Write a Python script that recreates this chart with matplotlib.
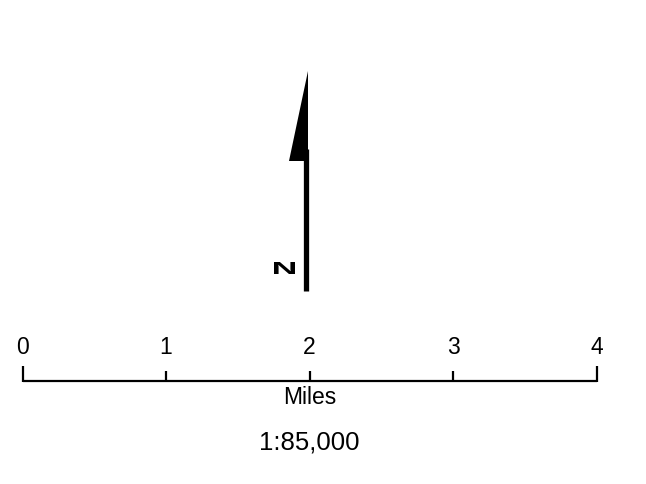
import matplotlib
matplotlib.use("Agg")
import matplotlib.pyplot as plt
from matplotlib.textpath import TextPath
from matplotlib.patches import PathPatch, Polygon
from matplotlib.font_manager import FontProperties
import matplotlib.transforms as mtransforms

# Data
scale_miles = [0, 1, 2, 3, 4]
scale_labels = ["0", "1", "2", "3", "4"]
unit_label = "Miles"
ratio_label = "1:85,000"
north_label = "N"

plt.rcParams['font.family'] = ['Liberation Sans', 'DejaVu Sans']

fig = plt.figure(figsize=(6.46, 4.85), dpi=100)
W, H = 646, 485
ax = fig.add_axes([0, 0, 1, 1])
ax.set_xlim(0, W)
ax.set_ylim(H, 0)
ax.axis('off')

# North arrow (pixel coords)
ax.plot([305.5, 305.5], [150, 292], color='black', lw=3.8, solid_capstyle='butt')
ax.add_patch(Polygon([[308, 72], [289, 162], [308, 162]], closed=True,
                     facecolor='black', edgecolor='none'))

fp = FontProperties(family='Liberation Sans', weight='bold')
tp = TextPath((0, 0), north_label, size=16, prop=fp)
ext = tp.get_extents()
sx = 21.0 / ext.width
sy = 12.0 / ext.height
tr = (mtransforms.Affine2D().translate(-ext.x0, -ext.y0).scale(sx, -sy)
      .translate(274, 275) + ax.transData)
ax.add_patch(PathPatch(tp, facecolor='black', edgecolor='none', transform=tr))

# Scale bar axes in miles
left_px, right_px = 22.5, 596.5
sax = fig.add_axes([left_px / W, 0, (right_px - left_px) / W, 1])
sax.set_xlim(scale_miles[0], scale_miles[-1])
sax.set_ylim(H, 0)
sax.axis('off')
base_y = 382
sax.plot([scale_miles[0], scale_miles[-1]], [base_y, base_y], color='black', lw=1.6,
         solid_capstyle='butt', clip_on=False)
for i, m in enumerate(scale_miles):
    top = 367 if i in (0, len(scale_miles) - 1) else 372
    sax.plot([m, m], [top, base_y + 0.8], color='black', lw=1.6, solid_capstyle='butt',
             clip_on=False)
    sax.text(m, 348, scale_labels[i], ha='center', va='center', fontsize=16.5, clip_on=False)
mid = (scale_miles[0] + scale_miles[-1]) / 2
sax.text(mid, 398, unit_label, ha='center', va='center', fontsize=16.5, clip_on=False)
sax.text(mid, 443, ratio_label, ha='center', va='center', fontsize=18.5, clip_on=False)

fig.savefig("out.png", dpi=100, facecolor='white')
